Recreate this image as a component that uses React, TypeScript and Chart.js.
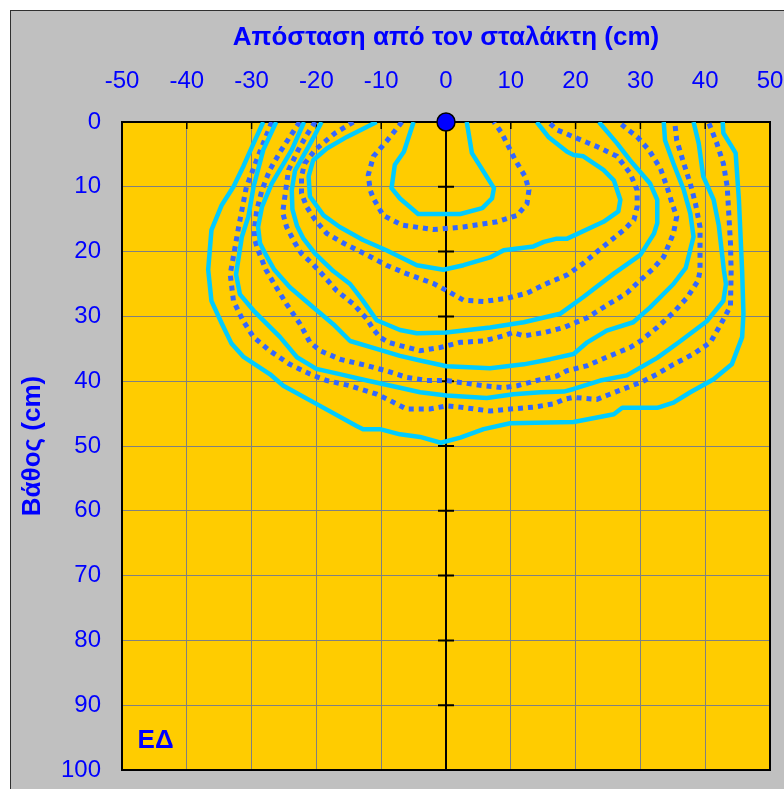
import React, { useEffect, useRef } from 'react';
import { Chart, registerables } from 'chart.js';

Chart.register(...registerables);

// ---- Text ----
const xTitle = 'Απόσταση από τον σταλάκτη (cm)';
const yTitle = 'Βάθος (cm)';
const panelLabel = 'ΕΔ';

// ---- Tick labels ----
const xTickValues = [-50, -40, -30, -20, -10, 0, 10, 20, 30, 40, 50];
const yTickValues = [0, 10, 20, 30, 40, 50, 60, 70, 80, 90, 100];

// ---- Emitter (dripper) position ----
const emitter: [number, number][] = [[0, 0]];

// ---- Contours: [distance (cm), depth (cm)] ----
const solid1: [number, number][] = [
  [-5.0, 0], [-6.5, 4.6], [-7.9, 6.6], [-8.4, 10.2], [-7.1, 11.8], [-4.3, 14.2], [0, 14.2],
  [2.2, 14.2], [5.6, 13.3], [7.1, 11.8], [7.4, 10.2], [4.0, 4.8], [3.2, 0],
];
const dotted1: [number, number][] = [
  [-6.8, 0], [-9.2, 3.0], [-11.2, 5.3], [-12.0, 8.2], [-11.7, 10.5], [-11.2, 11.8], [-9.7, 14.4],
  [-6.8, 15.9], [-2.0, 16.6], [2.7, 16.2], [7.9, 15.4], [11.0, 14.4], [12.5, 12.6], [12.8, 10.5],
  [12.2, 8.4], [10.7, 5.9], [8.6, 1.7], [7.4, 0],
];
const solid2: [number, number][] = [
  [-10.7, 0], [-15.3, 2.3], [-18.4, 4.1], [-20.5, 5.9], [-21.2, 8.4], [-21.0, 11.5], [-18.9, 14.4],
  [-16.4, 16.2], [-12.8, 18.2], [-9.2, 19.8], [-4.5, 22.1], [-0.4, 22.8], [2.7, 22.1], [6.8, 20.9],
  [8.9, 19.8], [13.5, 19.2], [15.1, 18.5], [17.1, 18.0], [18.7, 18.0], [24.3, 15.4], [26.6, 13.8],
  [26.9, 12.0], [25.9, 9.0], [24.3, 7.4], [21.2, 5.3], [19.7, 5.1], [18.7, 4.6], [15.8, 2.3], [14.0, 0],
];
const dotted2: [number, number][] = [
  [-14.3, 0], [-17.1, 1.7], [-20.2, 4.3], [-21.8, 6.4], [-22.3, 8.4], [-22.3, 11.0], [-21.5, 13.1],
  [-20.2, 15.1], [-18.4, 17.2], [-15.8, 18.7], [-12.2, 20.5], [-9.2, 22.1], [-6.1, 23.4], [-2.0, 24.9],
  [-0.1, 25.9], [2.7, 27.5], [5.8, 27.7], [9.4, 27.2], [12.5, 26.4], [15.6, 24.9], [18.7, 23.6],
  [21.2, 21.8], [24.3, 19.2], [27.4, 16.7], [29.0, 15.1], [29.5, 13.1], [29.5, 10.5], [28.4, 7.9],
  [26.4, 5.3], [23.3, 3.8], [19.7, 2.3], [17.1, 1.2], [15.8, 0],
];
const solid3: [number, number][] = [
  [-19.2, 0], [-20.5, 2.5], [-21.5, 4.3], [-23.3, 7.5], [-23.8, 10.5], [-23.7, 13.5], [-23.0, 16.0],
  [-22.0, 18.0], [-20.2, 20.3], [-17.4, 23.0], [-14.8, 25.0], [-12.8, 27.6], [-10.7, 30.6], [-7.1, 32.1],
  [-4.5, 32.6], [0, 32.5], [6.8, 31.7], [12.0, 30.9], [17.6, 29.6], [21.2, 27.0], [25.9, 23.4],
  [30.0, 20.5], [32.1, 17.2], [32.6, 15.6], [32.6, 12.0], [31.5, 9.5], [28.4, 5.9], [26.4, 3.3], [23.6, 0],
];
const dotted3: [number, number][] = [
  [-20.2, 0], [-21.5, 2.0], [-22.8, 4.3], [-24.3, 7.4], [-24.8, 11.0], [-25.2, 14.0], [-24.6, 16.2],
  [-23.3, 18.7], [-22.3, 20.3], [-20.7, 21.8], [-19.0, 23.6], [-16.9, 26.0], [-14.3, 28.1], [-12.2, 30.4],
  [-11.2, 32.0], [-10.2, 33.2], [-8.9, 34.0], [-7.1, 34.5], [-4.0, 35.3], [-0.9, 34.8], [2.2, 34.0],
  [5.8, 33.8], [8.9, 33.0], [10.3, 32.5], [12.0, 33.0], [15.1, 32.5], [18.2, 31.7], [21.8, 30.2],
  [24.3, 28.6], [27.9, 26.4], [30.0, 24.4], [32.0, 22.6], [33.6, 20.8], [35.1, 17.2], [35.6, 14.6],
  [34.9, 12.6], [34.1, 10.0], [33.1, 7.2], [31.3, 4.3], [29.5, 2.3], [26.6, 0],
];
const solid4: [number, number][] = [
  [-21.9, 0], [-23.8, 4.3], [-26.9, 9.5], [-28.4, 13.1], [-29.0, 16.2], [-28.7, 18.7], [-27.9, 20.3],
  [-26.5, 22.8], [-24.1, 25.5], [-20.5, 28.6], [-17.4, 31.2], [-14.8, 33.8], [-10.7, 35.0], [-7.1, 36.1],
  [-4.0, 36.8], [0.1, 37.7], [6.8, 38.0], [12.0, 37.4], [16.1, 36.6], [19.7, 35.8], [21.8, 34.0],
  [24.8, 32.2], [28.9, 30.9], [31.5, 28.6], [35.1, 25.0], [37.0, 22.5], [38.2, 17.7], [37.7, 14.1],
  [36.7, 10.5], [35.1, 6.4], [33.8, 2.8], [33.6, 0],
];
const dotted4: [number, number][] = [
  [-22.6, 0], [-25.4, 4.3], [-27.2, 7.4], [-28.4, 10.5], [-29.2, 13.6], [-29.6, 16.7], [-29.5, 18.2],
  [-29.0, 19.8], [-27.8, 22.8], [-26.5, 25.0], [-24.6, 28.1], [-22.5, 31.2], [-21.0, 34.0], [-19.4, 35.3],
  [-16.4, 36.6], [-12.2, 37.6], [-9.2, 38.4], [-6.1, 39.4], [-3.0, 39.9], [0.1, 39.9], [2.2, 40.2],
  [5.8, 40.7], [8.9, 41.0], [11.0, 40.7], [14.0, 39.9], [17.1, 39.2], [18.6, 38.4], [21.8, 37.6],
  [24.8, 36.3], [28.4, 34.8], [30.0, 33.8], [32.6, 31.7], [35.1, 29.4], [37.2, 27.1], [38.9, 24.5],
  [39.2, 23.0], [39.2, 16.2], [38.5, 12.6], [37.7, 9.5], [36.7, 6.4], [35.6, 2.8], [35.3, 0],
];
const solid5: [number, number][] = [
  [-26.2, 0], [-28.2, 4.3], [-29.7, 10.0], [-30.5, 14.6], [-31.5, 17.7], [-32.4, 23.5], [-31.8, 26.6],
  [-29.7, 29.1], [-25.6, 33.2], [-23.0, 36.3], [-20.0, 38.1], [-16.4, 38.9], [-12.2, 39.9], [-7.1, 41.0],
  [-4.0, 41.7], [0.1, 42.2], [6.3, 42.6], [10.4, 42.0], [14.6, 41.7], [18.2, 41.6], [19.7, 41.2],
  [23.8, 39.9], [27.9, 39.1], [32.6, 36.4], [36.2, 33.8], [40.3, 30.7], [42.8, 27.6], [43.2, 25.0],
  [42.9, 23.0], [42.1, 16.0], [41.3, 12.0], [39.7, 8.4], [39.0, 3.3], [38.2, 0],
];
const dotted5: [number, number][] = [
  [-26.9, 0], [-29.0, 5.3], [-30.8, 10.0], [-32.0, 16.2], [-33.3, 23.5], [-32.8, 27.6], [-31.3, 30.7],
  [-29.7, 33.2], [-27.2, 35.3], [-24.1, 37.4], [-21.0, 38.9], [-18.4, 39.9], [-14.8, 40.7], [-10.7, 42.0],
  [-8.6, 43.0], [-6.1, 44.3], [-2.5, 44.3], [0.1, 43.8], [2.2, 44.0], [6.8, 44.6], [9.9, 44.3],
  [13.5, 44.0], [16.6, 43.5], [18.2, 42.8], [19.7, 42.5], [23.3, 42.8], [24.8, 42.2], [27.9, 41.0],
  [30.0, 40.2], [32.6, 38.9], [35.1, 37.4], [38.2, 35.8], [40.8, 34.0], [42.3, 31.4], [43.9, 28.4],
  [44.0, 23.0], [43.9, 18.7], [43.4, 10.0], [42.8, 6.4], [41.8, 3.3], [40.5, 0],
];
const solid6: [number, number][] = [
  [-28.2, 0], [-29.7, 3.3], [-31.3, 6.9], [-32.8, 10.0], [-34.6, 12.8], [-36.2, 16.7], [-36.7, 22.8],
  [-36.2, 27.6], [-34.6, 31.1], [-33.1, 34.2], [-31.3, 36.2], [-27.2, 38.9], [-25.1, 40.7], [-20.0, 43.5],
  [-13.8, 46.9], [-12.8, 47.4], [-10.2, 47.4], [-7.1, 48.2], [-4.0, 48.6], [-0.8, 49.5], [2.2, 48.7],
  [5.8, 47.4], [9.9, 46.5], [19.7, 46.3], [25.9, 45.1], [27.2, 44.1], [32.6, 44.1], [35.1, 43.3],
  [37.7, 41.7], [41.3, 39.7], [44.1, 37.4], [45.7, 33.2], [45.9, 29.6], [45.7, 23.0], [45.2, 12.0],
  [44.7, 4.8], [44.1, 3.8], [42.8, 1.7], [42.7, 0],
];

const contours: { pts: [number, number][]; dotted: boolean }[] = [
  { pts: solid1, dotted: false },
  { pts: dotted1, dotted: true },
  { pts: solid2, dotted: false },
  { pts: dotted2, dotted: true },
  { pts: solid3, dotted: false },
  { pts: dotted3, dotted: true },
  { pts: solid4, dotted: false },
  { pts: dotted4, dotted: true },
  { pts: solid5, dotted: false },
  { pts: dotted5, dotted: true },
  { pts: solid6, dotted: false },
];

const FONT = "'Liberation Sans', Arial, sans-serif";
const BLUE_TEXT = '#0000FF';
const CYAN = '#00CCFF';
const DOT_BLUE = '#3366FF';
const PLOT_BG = '#FFCC00';
const PANEL_BG = '#C0C0C0';

const decorPlugin = {
  id: 'decor',
  beforeDraw(chart: any) {
    const { ctx, chartArea: a, width, height } = chart;
    ctx.save();
    ctx.fillStyle = '#FFFFFF';
    ctx.fillRect(0, 0, width, height);
    ctx.fillStyle = PANEL_BG;
    ctx.fillRect(10, 10, width - 10, height - 10);
    ctx.strokeStyle = '#303030';
    ctx.lineWidth = 1;
    ctx.strokeRect(10.5, 10.5, width + 10, height + 10);
    ctx.fillStyle = PLOT_BG;
    ctx.fillRect(a.left, a.top, a.right - a.left, a.bottom - a.top);
    ctx.restore();
  },
  beforeDatasetsDraw(chart: any) {
    const { ctx, chartArea: a, scales } = chart;
    const xs = scales.x;
    const ys = scales.y;
    const x0 = xs.getPixelForValue(0);
    ctx.save();
    ctx.strokeStyle = '#000000';
    // zero line with cross ticks
    ctx.lineWidth = 2;
    ctx.beginPath();
    ctx.moveTo(x0, a.top);
    ctx.lineTo(x0, a.bottom);
    yTickValues.forEach((v) => {
      if (v === 0) return;
      const y = ys.getPixelForValue(v);
      ctx.moveTo(x0 - 8, y);
      ctx.lineTo(x0 + 8, y);
    });
    ctx.stroke();
    // top axis inner ticks
    ctx.lineWidth = 1.5;
    ctx.beginPath();
    xTickValues.forEach((v) => {
      const x = xs.getPixelForValue(v);
      ctx.moveTo(x, a.top);
      ctx.lineTo(x, a.top + 7);
    });
    ctx.stroke();
    // plot border
    ctx.lineWidth = 2;
    ctx.strokeRect(a.left, a.top, a.right - a.left, a.bottom - a.top);
    ctx.restore();
  },
  afterDraw(chart: any) {
    const { ctx, scales } = chart;
    ctx.save();
    ctx.fillStyle = BLUE_TEXT;
    ctx.font = `bold 26px ${FONT}`;
    ctx.textAlign = 'left';
    ctx.textBaseline = 'alphabetic';
    ctx.fillText(panelLabel, scales.x.getPixelForValue(-47.6), scales.y.getPixelForValue(96.6));
    ctx.restore();
  },
};

export default function App() {
  const canvasRef = useRef<HTMLCanvasElement | null>(null);

  useEffect(() => {
    const canvas = canvasRef.current;
    if (!canvas) return;

    const datasets: any[] = [
      {
        data: emitter.map(([x, y]) => ({ x, y })),
        showLine: false,
        pointRadius: 9,
        pointBackgroundColor: '#0000FF',
        pointBorderColor: '#000000',
        pointBorderWidth: 1.5,
        clip: false,
      },
      ...contours.map((c) => ({
        data: c.pts.map(([x, y]) => ({ x, y })),
        showLine: true,
        borderColor: c.dotted ? DOT_BLUE : CYAN,
        borderWidth: c.dotted ? 5 : 4.5,
        borderDash: c.dotted ? [5, 5] : [],
        borderCapStyle: 'butt',
        borderJoinStyle: c.dotted ? 'miter' : 'round',
        pointRadius: 0,
        pointHoverRadius: 0,
        tension: 0,
        fill: false,
      })),
    ];

    const chart = new Chart(canvas, {
      type: 'scatter',
      data: { datasets },
      plugins: [decorPlugin],
      options: {
        responsive: false,
        animation: false,
        devicePixelRatio: 1,
        events: [],
        layout: { padding: { left: 0, top: 0, right: 14, bottom: 19 } },
        plugins: { legend: { display: false }, tooltip: { enabled: false } },
        scales: {
          x: {
            type: 'linear',
            position: 'top',
            min: -50,
            max: 50,
            afterBuildTicks: (s: any) => {
              s.ticks = xTickValues.map((v) => ({ value: v }));
            },
            afterFit: (s: any) => {
              s.height = 122;
              s.paddingLeft = 0;
              s.paddingRight = 0;
            },
            ticks: {
              color: BLUE_TEXT,
              font: { family: FONT, size: 24 },
              padding: 26,
              maxRotation: 0,
              autoSkip: false,
            },
            grid: { color: '#808080', lineWidth: 1, drawTicks: false },
            border: { display: false },
            title: {
              display: true,
              text: xTitle,
              color: BLUE_TEXT,
              font: { family: FONT, size: 26, weight: 'bold' },
              padding: { top: 22.5, bottom: 0 },
            },
          },
          y: {
            type: 'linear',
            position: 'left',
            reverse: true,
            min: 0,
            max: 100,
            afterBuildTicks: (s: any) => {
              s.ticks = yTickValues.map((v) => ({ value: v }));
            },
            afterFit: (s: any) => {
              s.width = 122;
              s.paddingTop = 0;
              s.paddingBottom = 0;
            },
            ticks: {
              color: BLUE_TEXT,
              font: { family: FONT, size: 24 },
              padding: 21,
              autoSkip: false,
            },
            grid: { color: '#808080', lineWidth: 1, drawTicks: false },
            border: { display: false },
            title: {
              display: true,
              text: yTitle,
              color: BLUE_TEXT,
              font: { family: FONT, size: 26, weight: 'bold' },
              padding: { top: 17, bottom: 0 },
            },
          },
        },
      } as any,
    });

    return () => chart.destroy();
  }, []);

  return (
    <canvas
      ref={canvasRef}
      width={784}
      height={789}
      style={{ position: 'fixed', left: 0, top: 0, width: 784, height: 789, display: 'block' }}
    />
  );
}
